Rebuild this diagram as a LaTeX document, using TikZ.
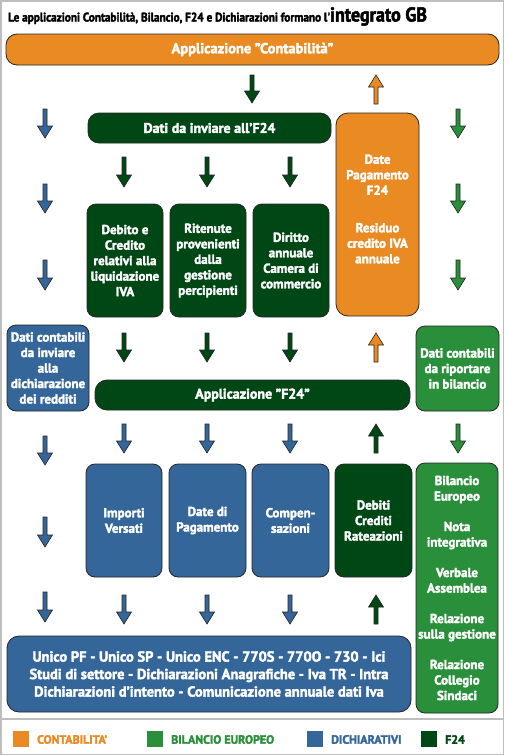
\documentclass[tikz,border=0pt]{standalone}
\usepackage{fontspec}
\setmainfont{PT Sans}[BoldFeatures={FakeBold=2.5}]
\newfontfamily\condfont[FakeStretch=0.9,BoldFeatures={FakeBold=2.5}]{PT Sans}
\newcommand\sq{\symbol{39}}
\newcommand\dq{\symbol{34}}
\definecolor{cOrange}{HTML}{E98A22}
\definecolor{cDark}{HTML}{004716}
\definecolor{cGreen}{HTML}{2A8F3A}
\definecolor{cBlue}{HTML}{34669A}
\definecolor{cLine}{HTML}{262626}
\definecolor{cFrame}{HTML}{BEBEBE}
\tikzset{
  boxbase/.style={draw=cLine, line width=0.8pt, text=white, align=center,
    font=\fontsize{13}{15.5}\selectfont\bfseries, inner sep=0pt, rounded corners=9pt},
  arrowline/.style={draw=cLine, line width=0.6pt, line join=miter},
  legtext/.style={anchor=west, font=\fontsize{12}{13}\selectfont\bfseries, inner sep=0pt}
}
\newcommand\arrdown[4]{%
  \draw[arrowline, fill=#4] (#1-2,#2) -- (#1+2,#2) -- (#1+2,#3-12) -- (#1+7.5,#3-12) -- (#1,#3) -- (#1-7.5,#3-12) -- (#1-2,#3-12) -- cycle;}
\newcommand\arrup[4]{%
  \draw[arrowline, fill=#4] (#1-2,#3) -- (#1+2,#3) -- (#1+2,#2+12) -- (#1+7.5,#2+12) -- (#1,#2) -- (#1-7.5,#2+12) -- (#1-2,#2+12) -- cycle;}
\begin{document}
\begin{tikzpicture}[x=1pt,y=-1pt]
\useasboundingbox (0,0) rectangle (504,755);
\fill[white] (0,0) rectangle (504,755);
\draw[cFrame, line width=1.5pt] (0.75,0.75) rectangle (503.25,754.25);
\draw[cFrame, line width=1.5pt] (0,719) -- (504,719);

% title
\node[anchor=base west, inner sep=0pt] (title) at (8,21.5)
  {\condfont\bfseries\fontsize{12.5}{14}\selectfont Le applicazioni Contabilità, Bilancio, F24 e Dichiarazioni formano l\sq\fontsize{20}{20}\selectfont integrato GB};

% boxes
\node[boxbase, fill=cOrange, minimum width=493pt, minimum height=31pt, rounded corners=11pt, font=\fontsize{14.5}{16}\selectfont\bfseries] (contab) at (252.5,49.5) {Applicazione \dq Contabilità\dq};
\node[boxbase, fill=cDark, minimum width=243pt, minimum height=30pt, rounded corners=11pt, font=\fontsize{14}{16}\selectfont\bfseries] (f24data) at (209.5,128) {Dati da inviare all\sq F24};
\node[boxbase, fill=cDark, minimum width=76pt, minimum height=113pt] (debito) at (125,260.5) {Debito e\\Credito\\relativi alla\\liquidazione\\IVA};
\node[boxbase, fill=cDark, minimum width=76pt, minimum height=113pt] (ritenute) at (208,260.5) {Ritenute\\provenienti\\dalla\\gestione\\percipienti};
\node[boxbase, fill=cDark, minimum width=76pt, minimum height=113pt] (diritto) at (291,260.5) {Diritto\\annuale\\Camera di\\commercio};
\node[boxbase, fill=cOrange, minimum width=83pt, minimum height=203pt, rounded corners=12pt] (datepag) at (377.5,214.5) {};
\node[boxbase, draw=none, rounded corners=0pt] (datepagtxt) at (377.5,209) {Date\\Pagamento\\F24\\[22pt]Residuo\\credito IVA\\annuale};

\node[boxbase, fill=cBlue, minimum width=82pt, minimum height=86pt] (datiblue) at (48,368) {Dati contabili\\da inviare\\alla\\dichiarazione\\dei redditi};
\node[boxbase, fill=cDark, minimum width=315pt, minimum height=30pt, rounded corners=12pt, font=\fontsize{14}{16}\selectfont\bfseries] (f24app) at (252.5,395) {Applicazione \dq F24\dq};
\node[boxbase, fill=cGreen, minimum width=83pt, minimum height=85pt] (datigreen) at (457.5,368.5) {Dati contabili\\da riportare\\in bilancio};

\node[boxbase, fill=cBlue, minimum width=76pt, minimum height=113pt] (importi) at (124,520.5) {Importi\\Versati};
\node[boxbase, fill=cBlue, minimum width=77pt, minimum height=113pt] (datepg) at (207.5,520.5) {Date di\\Pagamento};
\node[boxbase, fill=cBlue, minimum width=77pt, minimum height=113pt] (compens) at (290.5,520.5) {Compen-\\sazioni};
\node[boxbase, fill=cDark, minimum width=77pt, minimum height=113pt] (debiti) at (373.5,520.5) {Debiti\\Crediti\\Rateazioni};
\node[boxbase, fill=cGreen, minimum width=82pt, minimum height=250pt] (bilancio) at (457,588) {Bilancio\\Europeo\\[15pt]Nota\\integrativa\\[15pt]Verbale\\Assemblea\\[15pt]Relazione\\sulla gestione\\[15pt]Relazione\\Collegio\\Sindaci};
\node[boxbase, fill=cBlue, minimum width=404pt, minimum height=76pt, rounded corners=12pt, font=\fontsize{14.5}{17.5}\selectfont\bfseries] (unico) at (209,674) {Unico PF - Unico SP - Unico ENC - 770S - 770O - 730 - Ici\\Studi di settore - Dichiarazioni Anagrafiche - Iva TR - Intra\\Dichiarazioni d\sq intento - Comunicazione annuale dati Iva};

% arrows
\arrdown{252}{75}{103}{cDark}
\arrup{376}{75}{104}{cOrange}
\foreach \a/\b in {109/138,184/213,260/290,436/465,517/547,592/622} {\arrdown{45}{\a}{\b}{cBlue}}
\foreach \a/\b in {109/138,184/213,260/290,424/453} {\arrdown{458}{\a}{\b}{cGreen}}
\foreach \x in {124,207,290} {
  \arrdown{\x}{157}{187}{cDark}
  \arrdown{\x}{333}{362}{cDark}
  \arrdown{\x}{424}{453}{cBlue}
  \arrdown{\x}{595}{624}{cBlue}
}
\arrup{376}{333}{362}{cOrange}
\arrup{376}{424}{453}{cDark}
\arrup{376}{595}{624}{cDark}

% legend
\fill[cOrange] (13,731) rectangle (29,747);
\node[legtext, text=cOrange] (lg1) at (37,739.5) {CONTABILITA\sq};
\fill[cGreen] (147,731) rectangle (163,747);
\node[legtext, text=cGreen] (lg2) at (171,739.5) {BILANCIO EUROPEO};
\fill[cBlue] (307,731) rectangle (323,747);
\node[legtext, text=cBlue] (lg3) at (331,739.5) {DICHIARATIVI};
\fill[cDark] (421,731) rectangle (437,747);
\node[legtext, text=cDark] (lg4) at (445,739.5) {F24};
\end{tikzpicture}
\end{document}
